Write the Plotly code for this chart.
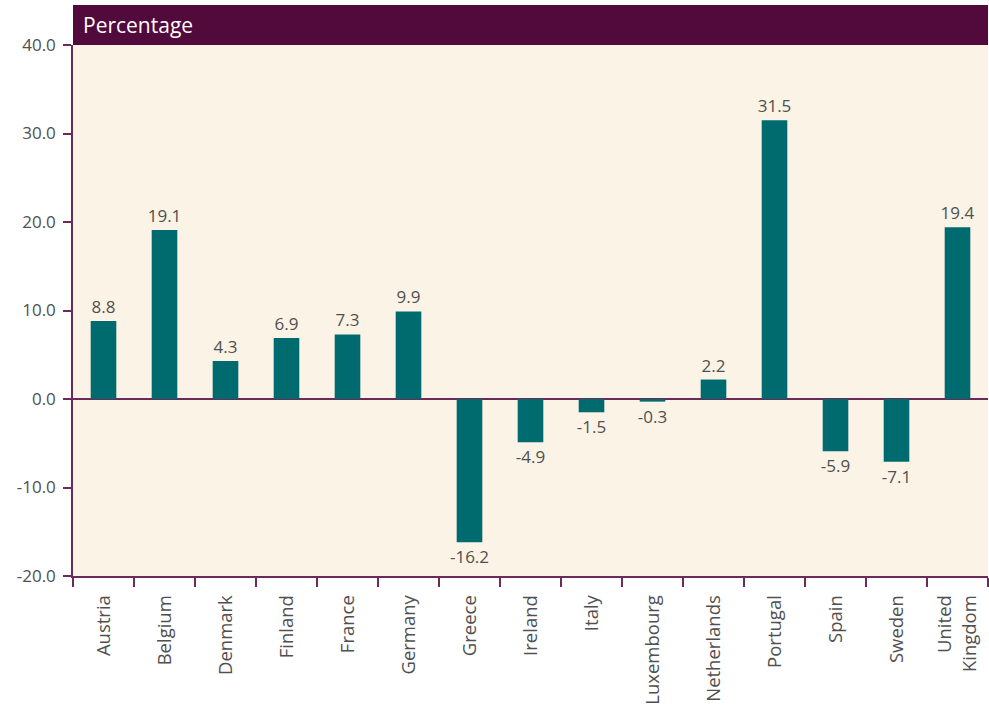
import plotly.graph_objects as go

countries = ["Austria", "Belgium", "Denmark", "Finland", "France", "Germany", "Greece",
             "Ireland", "Italy", "Luxembourg", "Netherlands", "Portugal", "Spain", "Sweden",
             "United<br>Kingdom"]
values = [8.8, 19.1, 4.3, 6.9, 7.3, 9.9, -16.2, -4.9, -1.5, -0.3, 2.2, 31.5, -5.9, -7.1, 19.4]
y_ticks = [-20, -10, 0, 10, 20, 30, 40]
y_tick_labels = ["-20.0", "-10.0", "0.0", "10.0", "20.0", "30.0", "40.0"]
header_title = "Percentage"

PURPLE = "#520A3D"
AXIS = "#6B2A5A"
TEAL = "#006B6E"
CREAM = "#FBF3E6"
TXT = "#505050"
FONT = "Open Sans, Noto Sans, sans-serif"

fig = go.Figure(go.Bar(
    x=countries, y=values,
    marker=dict(color=TEAL, line=dict(width=0)),
    text=[f"{v:.1f}" for v in values],
    textposition="outside",
    constraintext="none",
    textfont=dict(family=FONT, size=17, color=TXT),
    cliponaxis=False,
    width=0.42,
))

fig.update_layout(
    width=989, height=708,
    margin=dict(l=73, r=1, t=45, b=132),
    paper_bgcolor="white",
    plot_bgcolor=CREAM,
    showlegend=False,
    font=dict(family=FONT, color=TXT),
    shapes=[dict(type="rect", xref="paper", yref="paper", x0=0, x1=1, y0=1, y1=1 + 40 / 531,
                 fillcolor=PURPLE, line=dict(width=0), layer="above")],
    annotations=[dict(text=header_title, xref="paper", yref="paper", x=0, y=1 + 20 / 531,
                      xanchor="left", yanchor="middle", xshift=8, showarrow=False,
                      font=dict(family=FONT, size=21, color="white"))],
)

fig.update_xaxes(
    showline=True, linecolor=AXIS, linewidth=1.5,
    ticks="outside", tickson="boundaries", ticklen=9, tickcolor=AXIS, tickwidth=1.5,
    tickangle=-90, tickfont=dict(family=FONT, size=18.5, color=TXT),
    ticklabelstandoff=10,
    showgrid=False,
)
fig.update_yaxes(
    range=[-20, 40], tickvals=y_ticks, ticktext=y_tick_labels,
    showline=True, linecolor=AXIS, linewidth=1.5,
    ticks="outside", ticklen=8, tickcolor=AXIS, tickwidth=1.5,
    tickfont=dict(family=FONT, size=17, color=TXT),
    ticklabelstandoff=4,
    showgrid=False, zeroline=True, zerolinecolor=AXIS, zerolinewidth=1.5,
)

fig.write_html("out.html", config={"displayModeBar": False},
               post_script="document.body.style.margin='0';")
